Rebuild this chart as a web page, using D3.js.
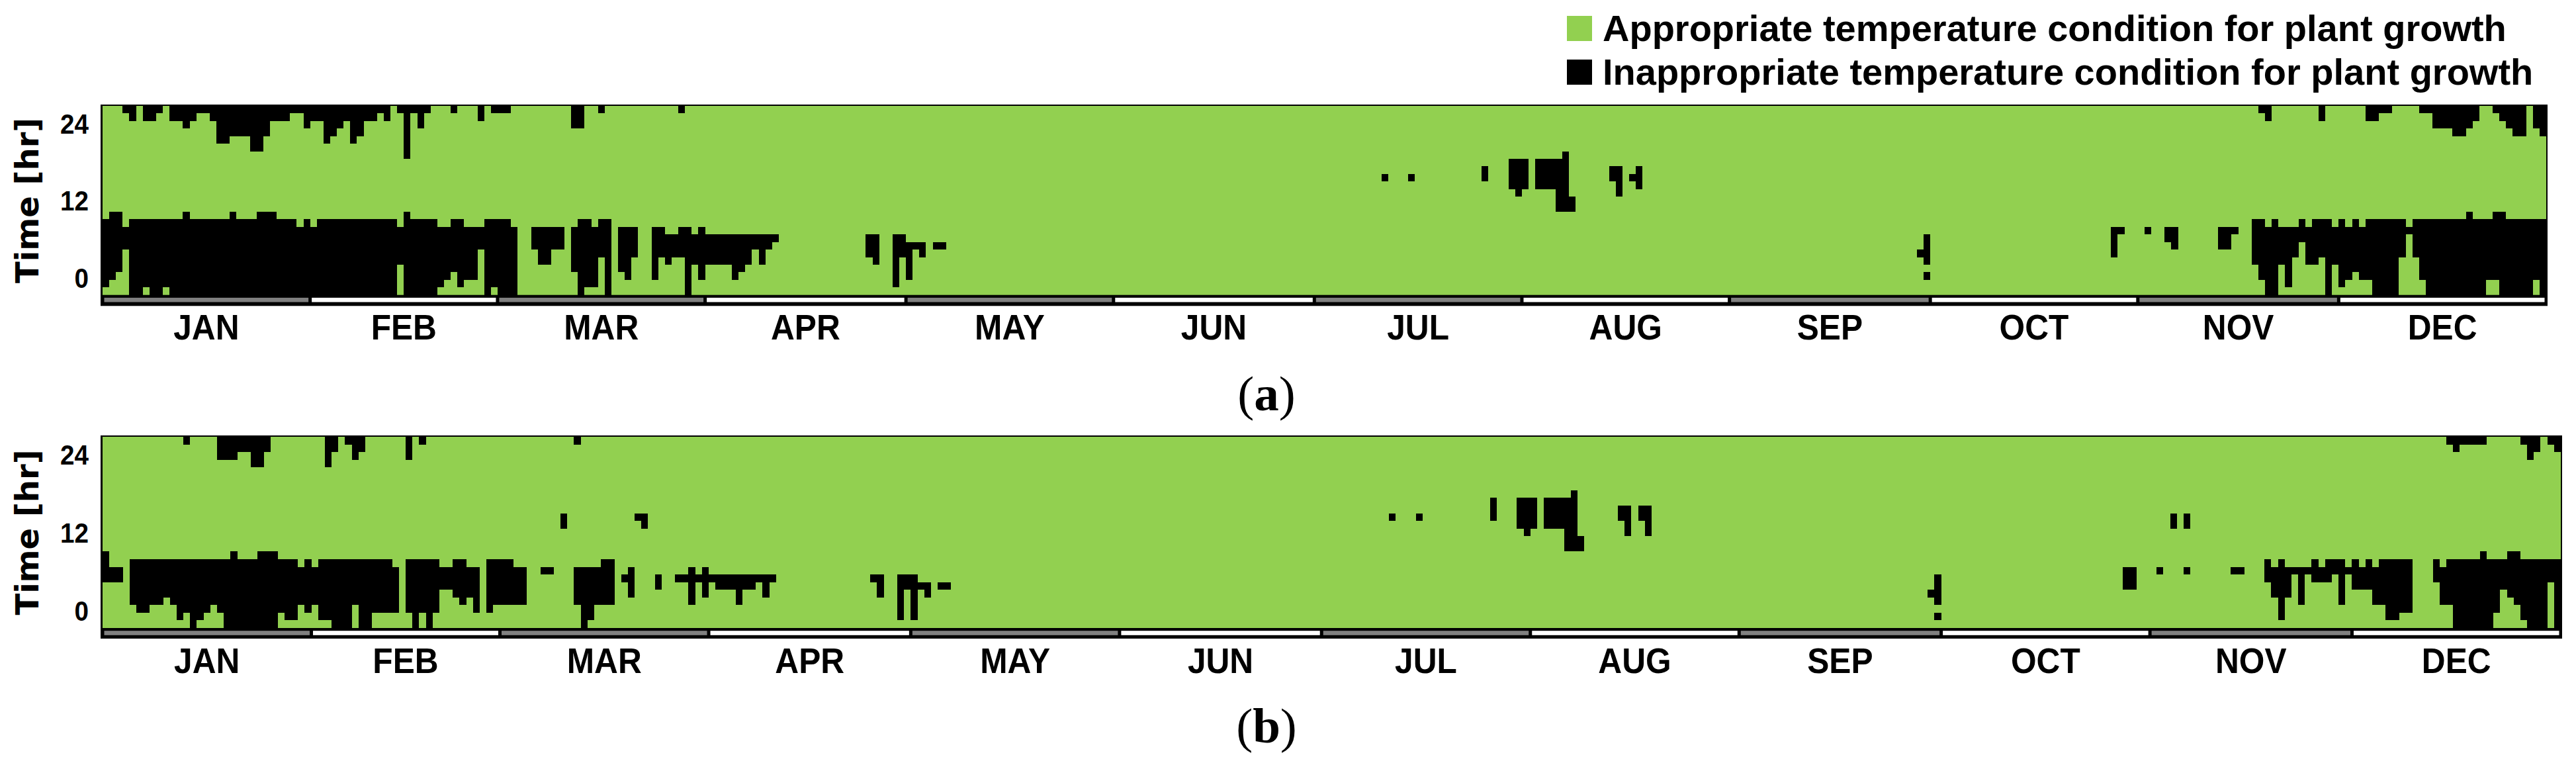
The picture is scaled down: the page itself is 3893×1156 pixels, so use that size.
<!DOCTYPE html>
<html>
<head>
<meta charset="utf-8">
<script src="https://cdn.jsdelivr.net/npm/d3@7"></script>
<style>
  body { margin: 0; background: #fff; }
  svg text { font-family: "Liberation Sans", Arial, sans-serif; font-weight: bold; fill: #000; }
</style>
</head>
<body>
<svg id="chart" width="3893" height="1156"></svg>
<script>
// ---- data ----
const months = ["JAN", "FEB", "MAR", "APR", "MAY", "JUN", "JUL", "AUG", "SEP", "OCT", "NOV", "DEC"];
const monthDays = [31, 28, 31, 30, 31, 30, 31, 31, 30, 31, 30, 31];
const hourTicks = [0, 12, 24];
const hourDomain = [-2.7, 26.77];
const nDays = 365, nRows = 25;
const legendLabels = [
  "Appropriate temperature condition for plant growth",
  "Inappropriate temperature condition for plant growth"
];
const panelTags = ["a", "b"];

// black (inappropriate) cells: [firstDay, lastDay, firstRow, rowEnd) ; row 0 = bottom
const runsA = [
  // late-night hours, start of year
  [3,3,24,25],[4,4,23,25],[6,7,23,25],[8,8,24,25],[10,11,23,25],[12,12,22,25],[13,13,23,25],[14,15,24,25],
  [16,16,23,25],[17,18,20,25],[19,21,21,25],[22,23,19,25],[24,24,21,25],[25,27,23,25],[28,29,24,25],
  [30,30,22,25],[31,32,23,25],[33,33,20,25],[34,34,21,25],[35,35,22,25],[36,36,23,25],[37,37,20,25],
  [38,38,21,25],[39,40,23,25],[41,41,24,25],[42,42,23,25],[44,44,24,25],[45,45,18,25],[46,46,24,25],
  [47,47,22,25],[48,48,24,25],[52,52,24,25],[56,56,23,25],[58,60,24,25],[70,71,22,25],[74,74,24,25],[86,86,24,25],
  // early-morning hours, start of year
  [0,0,1,10],[1,1,2,11],[2,2,3,11],[3,3,6,9],[4,5,0,10],[6,6,1,10],[7,8,0,10],[9,9,1,10],[10,11,0,10],
  [12,12,0,11],[13,18,0,10],[19,19,0,11],[20,22,0,10],[23,25,0,11],[26,28,0,10],[29,29,0,9],[30,30,0,10],
  [31,31,0,9],[32,43,0,10],[44,44,4,9],[45,45,0,11],[46,49,0,10],[50,50,1,9],[51,51,2,9],[52,52,3,10],
  [53,53,1,10],[54,55,2,9],[56,56,6,9],[57,57,0,10],[58,58,1,10],[59,60,0,10],
  [61,61,0,9],[64,64,6,9],[65,66,4,9],[67,68,6,9],[70,70,3,9],[71,71,0,10],[72,72,1,10],[73,73,1,9],
  [74,74,5,10],[75,75,0,10],[77,77,3,9],[78,78,2,9],[79,79,5,9],[82,82,2,9],[83,83,5,9],
  [84,84,4,8],[85,85,5,8],[86,86,5,9],[87,87,0,9],[88,88,4,8],[89,89,2,9],[90,93,4,8],[94,94,2,8],
  [95,95,3,8],[96,96,4,8],[97,97,6,8],[98,98,4,8],[99,99,6,8],[100,100,7,8],
  [114,114,5,8],[115,115,4,8],[118,118,1,8],[119,119,5,8],[120,120,2,7],[121,121,6,7],[122,122,5,7],[124,125,6,7],
  // summer afternoons
  [191,191,15,16],[195,195,15,16],[206,206,15,17],[210,210,14,18],[211,211,13,18],[212,212,14,18],
  [214,216,14,18],[217,217,11,18],[218,218,11,19],[219,219,11,13],[225,225,15,17],[226,226,13,17],
  [228,228,15,16],[229,229,14,17],[271,271,5,6],[272,272,4,8],[272,272,2,3],
  // autumn / end of year mornings
  [300,300,5,9],[301,301,8,9],[305,305,8,9],[308,308,7,9],[309,309,6,9],[316,317,6,9],[318,318,8,9],
  [321,321,4,10],[322,322,2,10],[323,323,0,9],[324,324,0,10],[325,325,4,9],[326,326,1,9],[327,327,5,9],
  [328,328,7,10],[329,329,4,9],[330,330,4,10],[331,331,5,10],[332,332,0,10],[333,333,4,9],[334,334,1,10],
  [335,335,2,9],[336,336,3,10],[337,337,2,9],[338,338,2,10],[339,342,0,10],[343,343,5,10],[344,344,8,9],
  [345,345,5,10],[346,346,2,10],[347,352,0,10],[353,353,0,11],[354,355,0,10],[356,356,2,10],[357,357,2,11],
  [358,358,0,11],[359,362,0,10],[363,363,2,10],[364,364,0,10],
  // end of year late-night
  [322,322,24,25],[323,323,23,25],[331,331,23,25],[338,339,23,25],[340,341,24,25],[346,347,24,25],
  [348,350,22,25],[351,352,21,25],[353,353,22,25],[354,354,23,25],[357,357,24,25],[358,358,23,25],
  [359,359,22,25],[360,361,21,25],[363,363,22,25],[364,364,21,25]
];

const runsB = [
  [12,12,24,25],[17,19,22,25],[20,21,23,25],[22,23,21,25],[24,24,23,25],[33,33,21,25],[34,34,23,25],
  [36,36,24,25],[37,37,22,25],[38,38,23,25],[45,45,22,25],[47,47,24,25],[70,70,24,25],
  [0,0,6,10],[1,2,6,8],[4,4,3,9],[5,6,2,9],[7,8,3,9],[9,9,4,9],[10,10,3,9],[11,11,1,9],[12,12,2,9],
  [13,13,0,9],[14,14,1,9],[15,15,2,9],[16,16,3,9],[17,17,2,9],[18,18,0,9],[19,19,0,10],[20,22,0,9],
  [23,25,0,10],[26,26,2,9],[27,28,1,9],[29,29,3,8],[30,30,2,9],[31,31,3,8],[32,33,1,9],[34,36,0,9],
  [37,37,3,9],[38,39,0,9],[40,42,2,9],[43,43,2,8],
  [45,45,2,9],[46,46,0,9],[47,47,2,9],[48,48,0,9],[49,49,2,9],[50,51,5,8],[52,52,4,9],[53,53,3,9],
  [54,54,4,8],[55,55,2,8],[57,57,2,9],[58,60,3,9],[61,62,3,8],[65,66,7,8],[68,68,13,15],[70,70,3,8],
  [71,71,0,8],[72,72,1,8],[73,73,3,8],[74,75,3,9],[77,77,6,7],[78,78,4,8],[79,79,14,15],[80,80,13,15],[82,82,5,7],
  [85,86,6,7],[87,87,3,8],[88,88,6,7],[89,89,4,8],[90,90,6,7],[91,93,5,7],[94,94,3,7],[95,96,5,7],
  [97,97,6,7],[98,98,4,7],[99,99,6,7],[114,114,6,7],[115,115,4,7],[118,118,1,7],[119,119,5,7],
  [120,120,1,7],[121,121,5,6],[122,122,4,6],[124,125,5,6],
  [191,191,14,15],[195,195,14,15],[206,206,14,17],[210,210,13,17],[211,211,12,17],[212,212,13,17],
  [214,216,13,17],[217,217,10,17],[218,218,10,18],[219,219,10,12],[225,225,14,16],[226,226,12,16],
  [228,228,14,16],[229,229,12,16],[271,271,4,5],[272,272,3,7],[272,272,1,2],
  [300,301,5,8],[305,305,7,8],[307,307,13,15],[309,309,7,8],[309,309,13,15],[316,317,7,8],
  [321,321,6,9],[322,322,4,8],[323,323,1,9],[324,324,4,8],[325,325,7,8],[326,326,3,8],[327,327,7,8],
  [328,328,6,9],[329,329,6,8],[330,330,6,9],[331,331,7,9],[332,332,3,9],[333,333,7,8],[334,334,5,9],
  [335,335,5,8],[336,336,5,9],[337,337,3,8],[338,338,3,9],[339,340,1,9],[341,342,2,9],[346,346,6,9],
  [347,347,3,8],[348,348,3,9],[349,352,0,9],[353,353,0,10],[354,354,0,9],[355,355,2,9],[356,356,5,9],
  [357,357,4,10],[358,358,3,10],[359,359,1,9],[360,362,0,9],[363,363,6,9],[364,364,0,9],
  [348,348,24,25],[349,349,23,25],[350,353,24,25],[359,359,24,25],[360,360,22,25],[361,361,23,25],
  [363,363,24,25],[364,364,23,25]
];

// ---- drawing ----
const GREEN = "#92D050", GREY = "#808080";
const svg = d3.select("#chart");

const panels = [
  {tag: panelTags[0], runs: runsA, x0: 155, x1: 3848, y0: 160, y1: 445.7, bottom: 462.3, capY: 620},
  {tag: panelTags[1], runs: runsB, x0: 155, x1: 3870, y0: 660, y1: 949, bottom: 965, capY: 1122}
];

const monthEnds = d3.cumsum(monthDays);
const monthStarts = monthEnds.map((e, i) => e - monthDays[i]);

panels.forEach(p => {
  const g = svg.append("g");
  const xDay = d3.scaleBand().domain(d3.range(nDays)).range([p.x0, p.x1]);
  const xEdge = d3.scaleLinear().domain([0, nDays]).range([p.x0, p.x1]);
  const yRow = d3.scaleBand().domain(d3.range(nRows)).range([p.y1, p.y0]);
  const yHour = d3.scaleLinear().domain(hourDomain).range([p.y1, p.y0]);

  // fill the day x hour grid from the runs
  const grid = d3.range(nDays).map(() => new Array(nRows).fill(false));
  p.runs.forEach(([d0, d1, r0, r1]) => {
    for (let d = d0; d <= d1; d++)
      for (let r = r0; r < r1; r++) grid[d][r] = true;
  });
  // merge vertical black cells per day
  const cells = [];
  grid.forEach((col, d) => {
    let r = 0;
    while (r < nRows) {
      if (col[r]) {
        const s = r;
        while (r < nRows && col[r]) r++;
        cells.push({d: d, lo: s, hi: r});
      } else r++;
    }
  });

  // frame + bottom strip
  g.append("rect")
    .attr("x", p.x0 - 3).attr("y", p.y0 - 2)
    .attr("width", p.x1 - p.x0 + 5).attr("height", p.bottom - p.y0 + 2)
    .attr("fill", "#000");
  g.append("rect")
    .attr("x", p.x0).attr("y", p.y0)
    .attr("width", p.x1 - p.x0).attr("height", p.y1 - p.y0)
    .attr("fill", GREEN);

  g.append("g").selectAll("rect")
    .data(cells)
    .join("rect")
    .attr("x", c => xDay(c.d))
    .attr("width", xDay.bandwidth())
    .attr("y", c => yRow(c.hi - 1))
    .attr("height", c => yRow(c.lo) + yRow.bandwidth() - yRow(c.hi - 1))
    .attr("fill", "#000")
    .attr("shape-rendering", "crispEdges");

  // month bars
  g.append("g").selectAll("rect")
    .data(months)
    .join("rect")
    .attr("x", (m, i) => xEdge(monthStarts[i]) + 2.5)
    .attr("width", (m, i) => xEdge(monthEnds[i]) - xEdge(monthStarts[i]) - 5)
    .attr("y", p.y1 + 4.2)
    .attr("height", 6.6)
    .attr("fill", (m, i) => i % 2 === 0 ? GREY : "#fff");

  // month labels
  g.append("g").selectAll("text")
    .data(months)
    .join("text")
    .attr("transform", (m, i) => `translate(${xEdge((monthStarts[i] + monthEnds[i]) / 2)},${p.y1 + 67.5}) scale(0.92,1)`)
    .attr("text-anchor", "middle")
    .style("font-size", "54px")
    .text(m => m);

  // hour ticks
  g.append("g").selectAll("text")
    .data(hourTicks)
    .join("text")
    .attr("transform", h => `translate(134,${yHour(h)}) scale(0.92,1)`)
    .attr("text-anchor", "end")
    .attr("dy", "0.36em")
    .style("font-size", "42px")
    .text(h => h);

  // axis title
  g.append("text")
    .attr("transform", `translate(41,${(p.y0 + p.y1) / 2}) rotate(-90)`)
    .attr("text-anchor", "middle")
    .attr("dominant-baseline", "central")
    .style("font-family", "'DejaVu Sans', sans-serif")
    .style("font-size", "48px")
    .text("Time [hr]");

  // panel caption
  const cap = g.append("text")
    .attr("x", 1914).attr("y", p.capY)
    .attr("text-anchor", "middle")
    .style("font-family", "'Liberation Serif', 'Times New Roman', serif")
    .style("font-weight", "normal")
    .style("font-size", "75px");
  cap.append("tspan").text("(");
  cap.append("tspan").style("font-weight", "bold").text(p.tag);
  cap.append("tspan").text(")");
});

// legend
const legend = svg.append("g");
const legendColors = [GREEN, "#000"];
legend.selectAll("rect")
  .data(legendLabels)
  .join("rect")
  .attr("x", 2368).attr("y", (t, i) => 24 + i * 66)
  .attr("width", 38).attr("height", 38)
  .attr("fill", (t, i) => legendColors[i]);
legend.selectAll("text")
  .data(legendLabels)
  .join("text")
  .attr("x", 2422).attr("y", (t, i) => 62 + i * 66)
  .style("font-size", "56px")
  .text(t => t);
</script>
</body>
</html>
